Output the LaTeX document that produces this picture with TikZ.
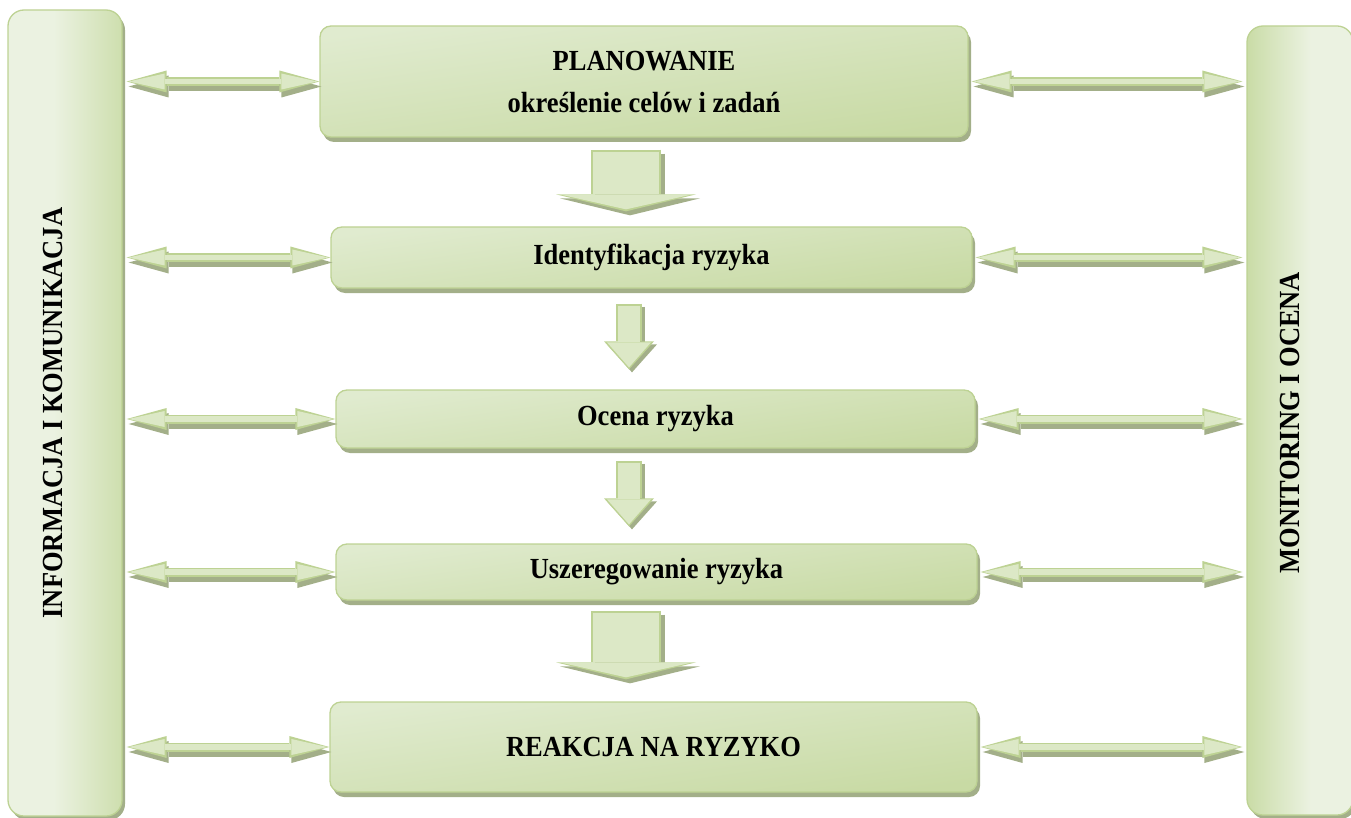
\documentclass[tikz,border=0pt]{standalone}
\usepackage{graphicx}
\usepackage{fontspec}
\setmainfont{Liberation Serif}
\usetikzlibrary{arrows.meta,shadows}
\definecolor{gLight}{HTML}{EBF2E1}
\definecolor{gTop}{HTML}{E0EBCF}
\definecolor{gBot}{HTML}{C8DAA4}
\definecolor{gMid}{HTML}{DCE8C6}
\definecolor{gDark}{HTML}{C4D89D}
\definecolor{gEdge}{HTML}{BDD293}
\definecolor{gShadow}{HTML}{A3AF89}
\pgfdeclarehorizontalshading{leftside}{100bp}{color(0bp)=(gTop); color(15bp)=(gLight); color(45bp)=(gLight); color(85bp)=(gDark); color(100bp)=(gTop)}
\pgfdeclarehorizontalshading{rightside}{100bp}{color(0bp)=(gTop); color(20bp)=(gDark); color(55bp)=(gLight); color(85bp)=(gLight); color(100bp)=(gTop)}
\newcommand{\tallt}[1]{\scalebox{1}[1.1]{#1}}
\tikzset{
  stagebox/.style={draw=gEdge, line width=1.3pt, rounded corners=11pt, inner sep=0pt,
    top color=gTop, middle color=gLight, bottom color=gBot, shading angle=8,
    drop shadow={shadow xshift=3pt, shadow yshift=-5pt, fill=gShadow, opacity=1},
    font=\bfseries\fontsize{26.5}{42}\selectfont, align=center},
  sidebox/.style={draw=gEdge, line width=1.3pt, rounded corners=16pt, inner sep=0pt,
    drop shadow={shadow xshift=3pt, shadow yshift=-4pt, fill=gShadow, opacity=1}},
  sidetext/.style={rotate=90, inner sep=0pt, font=\bfseries\fontsize{26.5}{30}\selectfont},
  hshadow/.style={draw=gShadow, line width=9pt, {Triangle[length=40pt,width=22pt,line width=0pt]}-{Triangle[length=40pt,width=22pt,line width=0pt]}, transform canvas={shift={(2pt,-5pt)}}},
  hedge/.style={draw=gEdge, line width=9pt, {Triangle[length=40pt,width=22pt,line width=0pt]}-{Triangle[length=40pt,width=22pt,line width=0pt]}},
  hfill/.style={draw=gMid, line width=5.5pt, {Triangle[length=36pt,width=16pt,line width=0pt]}-{Triangle[length=36pt,width=16pt,line width=0pt]}},
  bigshadow/.style={draw=gShadow, line width=70pt, -{Triangle[length=17pt,width=140pt,line width=0pt]}, transform canvas={shift={(4pt,-4pt)}}},
  bigedge/.style={draw=gEdge, line width=70pt, -{Triangle[length=17pt,width=140pt,line width=0pt]}},
  bigfill/.style={draw=gMid, line width=66pt, -{Triangle[length=15pt,width=133pt,line width=0pt]}},
  thinshadow/.style={draw=gShadow, line width=26pt, -{Triangle[length=28pt,width=50pt,line width=0pt]}, transform canvas={shift={(3pt,-3pt)}}},
  thinedge/.style={draw=gEdge, line width=26pt, -{Triangle[length=28pt,width=50pt,line width=0pt]}},
  thinfill/.style={draw=gMid, line width=22pt, -{Triangle[length=25pt,width=44pt,line width=0pt]}}
}
\begin{document}
\begin{tikzpicture}[x=1pt, y=-1pt]
\useasboundingbox (0,0) rectangle (1351,818);
% side boxes
\node[sidebox, shading=leftside, minimum width=114pt, minimum height=806pt] (info) at (65,413) {};
\node[sidebox, shading=rightside, minimum width=106pt, minimum height=789pt] (mon) at (1300,420.5) {};
\node[sidetext] (infotxt) at ([xshift=-12pt]info.center) {\tallt{INFORMACJA I KOMUNIKACJA}};
\node[sidetext] (montxt) at ([xshift=-10pt, yshift=-2pt]mon.center) {\tallt{MONITORING I OCENA}};
% stage boxes
\node[stagebox, minimum width=648pt, minimum height=111pt] (plan) at (644,81.5) {\tallt{PLANOWANIE}\\\tallt{określenie celów i zadań}};
\node[stagebox, minimum width=641pt, minimum height=61pt] (ident) at (651.5,257.5) {\tallt{Identyfikacja ryzyka}};
\node[stagebox, minimum width=639pt, minimum height=58pt] (ocena) at (655.5,419) {\tallt{Ocena ryzyka}};
\node[stagebox, minimum width=641pt, minimum height=56pt] (uszer) at (656.5,572) {\tallt{Uszeregowanie ryzyka}};
\node[stagebox, minimum width=647pt, minimum height=90pt] (reak) at (653.5,747) {\tallt{REAKCJA NA RYZYKO}};
% columns for vertical arrows
\coordinate (ax) at (626,0);
\coordinate (bx) at (629,0);
% vertical arrows
\draw[bigshadow, shorten <=12pt, shorten >=15pt] (ax |- plan.south) -- (ax |- ident.north);
\draw[bigedge, shorten <=12pt, shorten >=15pt] (ax |- plan.south) -- (ax |- ident.north);
\draw[bigfill, shorten <=14pt, shorten >=17pt] (ax |- plan.south) -- (ax |- ident.north);
\draw[thinshadow, shorten <=15pt, shorten >=20pt] (bx |- ident.south) -- (bx |- ocena.north);
\draw[thinedge, shorten <=15pt, shorten >=20pt] (bx |- ident.south) -- (bx |- ocena.north);
\draw[thinfill, shorten <=17pt, shorten >=22pt] (bx |- ident.south) -- (bx |- ocena.north);
\draw[thinshadow, shorten <=12pt, shorten >=17pt] (bx |- ocena.south) -- (bx |- uszer.north);
\draw[thinedge, shorten <=12pt, shorten >=17pt] (bx |- ocena.south) -- (bx |- uszer.north);
\draw[thinfill, shorten <=14pt, shorten >=19pt] (bx |- ocena.south) -- (bx |- uszer.north);
\draw[bigshadow, shorten <=10pt, shorten >=22pt] (ax |- uszer.south) -- (ax |- reak.north);
\draw[bigedge, shorten <=10pt, shorten >=22pt] (ax |- uszer.south) -- (ax |- reak.north);
\draw[bigfill, shorten <=12pt, shorten >=24pt] (ax |- uszer.south) -- (ax |- reak.north);
% horizontal double arrows
\foreach \n in {plan, ident, ocena, uszer, reak}{
  \draw[hshadow, shorten <=4pt] (info.east |- \n.west) -- (\n.west);
  \draw[hedge, shorten <=4pt] (info.east |- \n.west) -- (\n.west);
  \draw[hfill, shorten <=6pt, shorten >=2pt] (info.east |- \n.west) -- (\n.west);
  \draw[hshadow, shorten <=3pt, shorten >=4pt] (\n.east) -- (mon.west |- \n.east);
  \draw[hedge, shorten <=3pt, shorten >=4pt] (\n.east) -- (mon.west |- \n.east);
  \draw[hfill, shorten <=5pt, shorten >=6pt] (\n.east) -- (mon.west |- \n.east);
}
\end{tikzpicture}
\end{document}
